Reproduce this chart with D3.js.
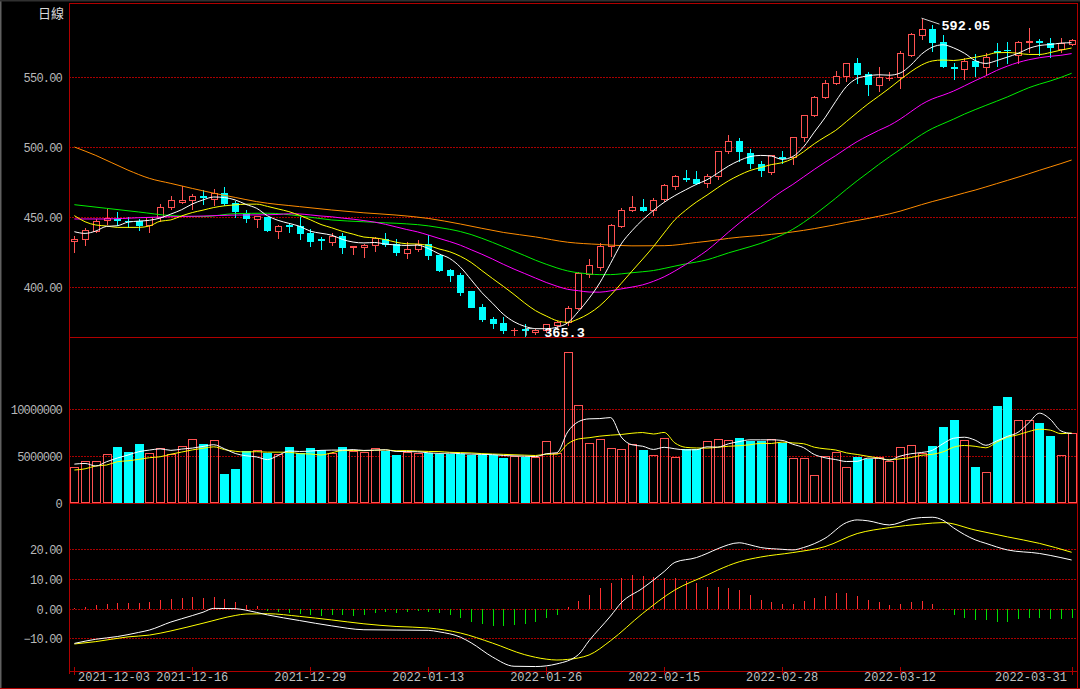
<!DOCTYPE html>
<html><head><meta charset="utf-8">
<script src="https://cdn.jsdelivr.net/npm/d3@7"></script>
<style>html,body{margin:0;padding:0;background:#000;overflow:hidden}</style>
</head><body><svg id="c" width="1080" height="689"></svg>
<script>
// ---------- data ----------
const opens  = [433,434,440,448,448.5,447.5,447,444,450,457,461,462,465,463,467,460,453,448.5,450,440,444,443.5,438.5,434,432,436.5,428.5,428.5,430,434,431,424.5,427,430.5,423,412,408.5,397,386,377,374,369,370,368,369.5,373,375,385,409,414.5,429,443.5,455,457,455,463,472,478,477,474,479,497,504,496,488,482,493,493,507,523,535.5,545.5,551,560,552,544,549,550,566,580,584,575,557,555.5,561.5,557,568.5,569.5,566,575,575.5,574.5,570,573.5];
const highs  = [437,443,449,457,454,451,449.5,451,460,466,473,467.5,470,470.5,472,462,455.5,451.5,451,445,446,451,442.5,436.5,439.5,439.5,430,431.5,436.5,439.5,435,433,434,438,423.5,413.5,411,397.5,388.5,379,379,371.5,374,371,374.5,376.5,387,411.5,421,432,446,457,465.5,463.5,464,474,481,484,483.5,481.5,498,509,507,499.5,491,495,498,507.5,523.5,537,548.5,555,561,564,554.5,558,554,569.5,582,592.05,588,581,561,564,567.5,568,575,576,576.5,585.5,578,578.5,578.5,578];
const lows   = [425,430,439,445,444,443,441,439.5,447,455.5,460,456,459,458.5,458.5,450,446.5,443,440,435,439.5,434,429,427,430,424.5,423.5,421.5,426,429.5,423,421,426,420,411.5,404,394,385.5,376,370.5,367.5,366,365.3,366.5,368,371,373,384,407,412,422,443,454,454,451.5,461.5,470,476,473.5,471.5,477.5,496,490,485,479.5,481,488.5,488,504,522,535,545,547.5,546,537,540,548,542,565,577.5,568.5,557,548.5,548.5,550.5,552,558,560,560,568,566,564.5,568,573];
const closes = [434,441,447,449,447.8,447,444.5,450,457,462,462.5,465,464.5,467.5,460,454,449,450.5,441,443.5,443.5,438.5,433,433.5,436.5,428.5,429,430,435,431,425,427.5,431,423,412,408.5,396.5,386,377,374,369.5,369.5,369.5,369,373.5,375,385,410,416,429,444,455,457,455,462.5,473,479,477.5,474.5,479,497,504,497,488.5,483.5,494.5,492.5,507,523,536,546,551,560,552,545,550,549.5,567.5,580.5,584,575,558,556.5,561.5,558,564.5,568,569,575,575.5,575,571.5,574,576.5];
const volumes = [3760000,4430000,4430000,5140000,5950000,5350000,6200000,5310000,5770000,5170000,6020000,6730000,6200000,6660000,3010000,3550000,5490000,5600000,5240000,5170000,5950000,5240000,5840000,5600000,5310000,5950000,5490000,5410000,5770000,5490000,5060000,5410000,5310000,5240000,5170000,5170000,5170000,5060000,5060000,5060000,4710000,4960000,4900000,4850000,6580000,5240000,16000000,10340000,6370000,6730000,5770000,5660000,6230000,5600000,5030000,6900000,4880000,5660000,5660000,6580000,6730000,6660000,6830000,6580000,6580000,6730000,6370000,4780000,4780000,2940000,4990000,5410000,3760000,4880000,4640000,4880000,4460000,5880000,6130000,5310000,6020000,8000000,8780000,6660000,3760000,3290000,10270000,11250000,8780000,8780000,8460000,7080000,5030000,7370000];
const macdHist = [0.2,0.67,1.24,1.57,1.9,1.9,1.9,2.36,2.9,3.27,3.7,4.05,3.7,4.05,3.27,2.36,1.24,0.9,-0.67,-1.1,-1.56,-1.8,-2.1,-2.46,-2.1,-2.1,-2.46,-2.1,-1.34,-1.0,-1.34,-1.0,-0.67,-1.0,-1.34,-2.1,-3.2,-4.4,-5.15,-5.8,-5.8,-5.5,-5.15,-4.4,-3.2,-2.1,0.5,2.7,4.7,6.86,8.75,10.4,11.3,11.0,10.8,10.4,10.5,9.4,8.5,7.3,7.2,7.0,6.3,4.6,2.9,2.26,1.58,1.5,2.6,3.7,4.27,5.2,5.2,4.27,2.9,2.26,1.24,1.58,2.26,2.6,1.58,-0.4,-2.1,-3.2,-3.8,-3.8,-4.4,-4.4,-3.57,-3.2,-3.2,-3.57,-3.57,-3.2];
// DIF / DEA lines, [bar index, value]
const difPts = [[0,-11.7],[2,-10.3],[4,-9.4],[6,-8.0],[7,-7.2],[9,-4.5],[10,-3.4],[12,-1.2],[13,0.1],[15,0],[16,-0.5],[18,-2.1],[21,-4.0],[24,-5.8],[27,-7.1],[30,-7.2],[33,-7.3],[34,-7.8],[36,-9.6],[37,-11.5],[39,-16.3],[41,-19.4],[43,-19.5],[45,-18.6],[47,-15.5],[48,-10.8],[50,-2.5],[51,2.0],[53,6.9],[55,12.5],[56,15.6],[58,17.2],[59,18.6],[60,20.2],[62,22.2],[63,21.5],[64,20.6],[66,20.0],[67,19.8],[68,20.6],[70,23.7],[72,29.0],[73,29.9],[74,29.6],[76,28.2],[78,30.2],[79,30.7],[80,30.8],[81,29.8],[82,27.2],[84,23.2],[85,22.0],[87,19.8],[90,18.6],[92,17.2],[93,16.4]];
const deaPts = [[0,-11.9],[2,-11.1],[5,-9.5],[7,-8.9],[9,-7.5],[12,-4.9],[15,-2.3],[16,-1.8],[18,-1.7],[21,-2.6],[24,-3.8],[27,-5.1],[30,-6.0],[33,-6.5],[36,-8.2],[39,-11.6],[42,-15.5],[44,-17.0],[45,-17.3],[46,-17.1],[47,-16.6],[48,-15.6],[50,-10.8],[53,-1.6],[56,6.3],[59,11.3],[60,13.0],[62,15.8],[64,17.4],[67,18.9],[70,20.9],[73,25.3],[76,27.3],[79,28.5],[81,29.0],[84,26.5],[87,24.2],[90,22.0],[93,19.0]];
// moving-average values before their window is complete
const ma5Head  = [[0,439.5],[1,438.3],[2,440],[3,443.3]];
const ma10Head = [[0,451],[1,446.6],[2,444.3],[3,443.6],[4,442.6],[5,442.6],[6,442.6],[7,443.6],[8,447]];
const ma20Head = [[0,448.6],[3,448.6],[6,449.5],[9,450.2],[12,450.7],[15,451.4],[18,451.6]];
const ma30Head = [[0,458.8],[3,456.2],[6,453.6],[9,451],[12,450.3],[15,452.4],[18,452.7],[21,450.8],[24,447.9],[27,446.6]];
const ma60Head = [[0,500],[2,494],[5,483.5],[7,477.6],[9,474],[13,467],[15,464],[17,461],[21,457.4],[24,455],[27,453],[30,451.4],[33,449],[36,445],[40,439],[43,435.8],[46,432],[49,430.4],[52,429.4],[55,429.5],[58,431.8]];
const volMa5Head  = [[0,4100000],[1,4170000],[2,3900000],[3,4350000]];
const volMa10Head = [[0,3470000],[1,3600000],[2,3900000],[3,4000000],[4,4350000],[5,4450000],[6,4600000],[7,4780000],[8,4880000]];
const priceTicks = [400,450,500,550];
const volTicks = [5000000,10000000];
const macdTicks = [-10,0,10,20];
const dateTicks = [[0,"2021-12-03"],[11,"2021-12-16"],[22,"2021-12-29"],[33,"2022-01-13"],[44,"2022-01-26"],[55,"2022-02-15"],[66,"2022-02-28"],[77,"2022-03-12"],[93,"2022-03-31"]];
const highMark = [79, 592.05];
const lowMark = [42, 365.3];

// ---------- drawing ----------
const RED="#ff5252", CYAN="#00ffff", GRID="#a80000", BORDER="#b00000";
const L=69, R=1077;
const svg=d3.select("#c");
svg.append("rect").attr("width",1080).attr("height",689).attr("fill","#000");
const idx = d3.range(closes.length);
const x = d3.scaleBand().domain(idx).range([L,R]);
const cx = i => x(i)+x.bandwidth()/2;
const px = i => Math.round(cx(i))+0.5;
const yP = d3.scaleLinear().domain([364.3,602.86]).range([337,3]);
const yV = d3.scaleLinear().domain([0,17600000]).range([502.7,337]);
const yM = d3.scaleLinear().domain([-21,35.6]).range([671,503]);

const defs=svg.append("defs");
[["cp",3,337],["cv",337,503],["cm",503,671]].forEach(([id,a,b])=>{
  defs.append("clipPath").attr("id",id).append("rect").attr("x",L).attr("y",a).attr("width",R-L).attr("height",b-a);
});

// outer frame bits
svg.append("line").attr("x1",0.5).attr("x2",0.5).attr("y1",0).attr("y2",689).attr("stroke","#606060").attr("stroke-width",2);
svg.append("line").attr("x1",0).attr("x2",1080).attr("y1",0.5).attr("y2",0.5).attr("stroke","#303030").attr("stroke-width",2);

// grids
const g=svg.append("g").attr("shape-rendering","crispEdges");
function hgrid(vals, scale){
  vals.forEach(v=>{
    const yy=Math.round(scale(v))+0.5;
    g.append("line").attr("x1",L).attr("x2",R).attr("y1",yy).attr("y2",yy)
     .attr("stroke",GRID).attr("stroke-dasharray","2,1");
  });
}
hgrid(priceTicks,yP); hgrid(volTicks,yV); hgrid(macdTicks,yM);

// axis labels
const lab=svg.append("g").attr("font-family","Liberation Mono, DejaVu Sans Mono, monospace")
  .attr("font-size",12).attr("fill","#b8b8b8").attr("text-anchor","end").attr("letter-spacing",-0.8);
priceTicks.forEach(v=>lab.append("text").attr("x",62).attr("y",yP(v)+5).text(d3.format(".2f")(v)));
[0].concat(volTicks).forEach(v=>lab.append("text").attr("x",62).attr("y",yV(v)+5).text(String(v)));
macdTicks.forEach(v=>lab.append("text").attr("x",62).attr("y",yM(v)+5).text(d3.format(".2f")(v)));
svg.append("text").attr("x",64).attr("y",18).attr("text-anchor","end")
  .attr("font-family","Noto Sans CJK TC, Noto Sans CJK SC, sans-serif").attr("font-size",13)
  .attr("fill","#d8d8d8").text("日線");

// moving averages
function ma(vals,n,head){
  const pts=head.map(d=>[d[0],d[1]]);
  for(let i=n-1;i<vals.length;i++) pts.push([i,d3.mean(vals.slice(i-n+1,i+1))]);
  return pts;
}
const lineP=d3.line().x(d=>cx(d[0])).y(d=>yP(d[1])).curve(d3.curveMonotoneX);
const lineV=d3.line().x(d=>cx(d[0])).y(d=>yV(d[1])).curve(d3.curveMonotoneX);
const lineM=d3.line().x(d=>cx(d[0])).y(d=>yM(d[1])).curve(d3.curveMonotoneX);

// candles
const cg=svg.append("g").attr("clip-path","url(#cp)").attr("shape-rendering","crispEdges");
idx.forEach(i=>{
  const o=opens[i],c=closes[i],h=highs[i],l=lows[i],up=c>=o,col=up?RED:CYAN,p=px(i);
  const top=Math.round(yP(Math.max(o,c)))+0.5, bot=Math.round(yP(Math.min(o,c)))+0.5;
  const yh=Math.round(yP(h))+0.5, yl=Math.round(yP(l))+0.5;
  if(up){
    cg.append("line").attr("x1",p).attr("x2",p).attr("y1",yh).attr("y2",top).attr("stroke",col);
    cg.append("line").attr("x1",p).attr("x2",p).attr("y1",bot).attr("y2",yl).attr("stroke",col);
  } else {
    cg.append("line").attr("x1",p).attr("x2",p).attr("y1",yh).attr("y2",yl).attr("stroke",col);
  }
  if(bot-top<1){
    cg.append("line").attr("x1",p-3.5).attr("x2",p+3.5).attr("y1",top).attr("y2",top).attr("stroke",col);
  } else {
    cg.append("rect").attr("x",p-3).attr("y",top).attr("width",6).attr("height",bot-top)
      .attr("fill",up?"#000":col).attr("stroke",col);
  }
});
const mg=svg.append("g").attr("clip-path","url(#cp)").attr("fill","none").attr("stroke-width",1);
[[ma(closes,60,ma60Head),"#ff8c00"],[ma(closes,30,ma30Head),"#00ee00"],[ma(closes,20,ma20Head),"#ff00ff"],
 [ma(closes,10,ma10Head),"#ffff00"],[ma(closes,5,ma5Head),"#ffffff"]].forEach(([pts,col])=>{
  mg.append("path").attr("d",lineP(pts)).attr("stroke",col);
});

// volume bars
const vg=svg.append("g").attr("clip-path","url(#cv)").attr("shape-rendering","crispEdges");
idx.forEach(i=>{
  const up=closes[i]>=opens[i],p=px(i),t=Math.round(yV(volumes[i]))+0.5,b=Math.round(yV(0))-0.5;
  vg.append("rect").attr("x",p-4).attr("y",t).attr("width",8).attr("height",b-t)
    .attr("fill",up?"none":CYAN).attr("stroke",up?RED:CYAN);
});
const vmg=svg.append("g").attr("clip-path","url(#cv)").attr("fill","none");
vmg.append("path").attr("d",lineV(ma(volumes,10,volMa10Head))).attr("stroke","#ffff00");
vmg.append("path").attr("d",lineV(ma(volumes,5,volMa5Head))).attr("stroke","#ffffff");

// MACD
const hg=svg.append("g").attr("clip-path","url(#cm)").attr("shape-rendering","crispEdges");
idx.forEach(i=>{
  const v=macdHist[i];
  hg.append("line").attr("x1",px(i)).attr("x2",px(i)).attr("y1",yM(0)).attr("y2",yM(v))
    .attr("stroke",v>=0?"#ff3030":"#00e000").attr("stroke-width",1.5);
});
const lg=svg.append("g").attr("clip-path","url(#cm)").attr("fill","none");
lg.append("path").attr("d",lineM(deaPts)).attr("stroke","#ffff00");
lg.append("path").attr("d",lineM(difPts)).attr("stroke","#ffffff");

// borders
const bg=svg.append("g").attr("stroke",BORDER).attr("shape-rendering","crispEdges");
[3.5,337.5,503.5,671.5].forEach(yy=>bg.append("line").attr("x1",L).attr("x2",R).attr("y1",yy).attr("y2",yy));
bg.append("line").attr("x1",0).attr("x2",1080).attr("y1",688.5).attr("y2",688.5);
bg.append("line").attr("x1",L+0.5).attr("x2",L+0.5).attr("y1",3).attr("y2",674);
bg.append("line").attr("x1",R+0.5).attr("x2",R+0.5).attr("y1",3).attr("y2",689);

// date axis
const dg=svg.append("g").attr("font-family","Liberation Mono, DejaVu Sans Mono, monospace")
  .attr("font-size",12).attr("fill","#c0c0c0").attr("text-anchor","middle");
dateTicks.forEach(([i,t])=>{
  bg.append("line").attr("x1",px(i)).attr("x2",px(i)).attr("y1",667).attr("y2",675);
  const xx=Math.max(L+8+37,Math.min(R-9-37,cx(i)));
  dg.append("text").attr("x",xx).attr("y",680.5).text(t);
});

// high / low annotations
const ag=svg.append("g");
{
  const [i,v]=highMark, hx=cx(i), hy=yP(v);
  ag.append("path").attr("d",`M${hx},${hy}L${hx+18},${hy+6}`).attr("stroke","#d0d0d0").attr("fill","none");
  ag.append("text").attr("x",hx+20).attr("y",hy+12).attr("font-family","Liberation Mono, monospace")
    .attr("font-weight","bold").attr("font-size",13.5).attr("fill","#ffffff").text(d3.format(".2f")(v));
}
{
  const [i,v]=lowMark, lx=cx(i)+1.5, ly=yP(v);
  ag.append("path").attr("d",`M${lx},${ly}L${lx},${ly-7}L${lx+15},${ly-7}`).attr("stroke","#d0d0d0").attr("fill","none");
  ag.append("text").attr("x",lx+18).attr("y",ly+1).attr("font-family","Liberation Mono, monospace")
    .attr("font-weight","bold").attr("font-size",13.5).attr("fill","#ffffff").text(String(v));
}
</script></body></html>
